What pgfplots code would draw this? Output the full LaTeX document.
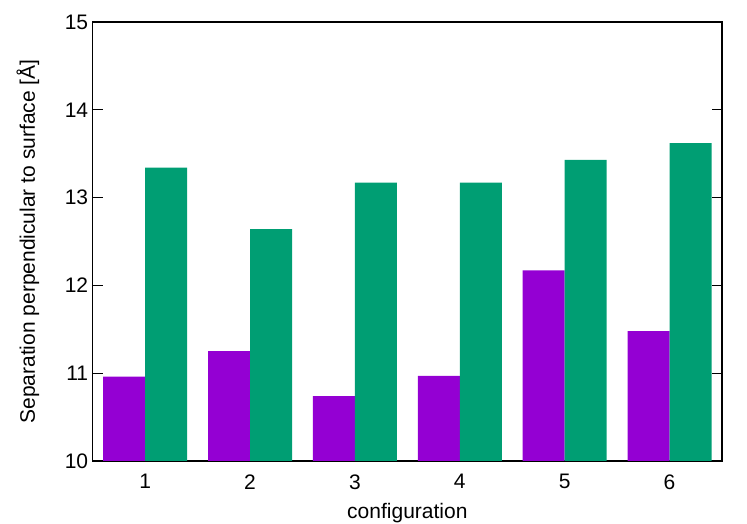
\documentclass[border=0pt]{standalone}
\usepackage{fontspec}
\setmainfont{Liberation Sans}
\usepackage{pgfplots}
\pgfplotsset{compat=1.18}
\definecolor{gpviolet}{HTML}{9400D3}
\definecolor{gpgreen}{HTML}{009E73}
\begin{document}
\begin{tikzpicture}
\useasboundingbox (-92.7pt,-63pt) rectangle (654.3pt,461pt);
\begin{axis}[
  at={(0pt,0pt)}, anchor=south west,
  scale only axis,
  width=629.3pt, height=439pt,
  xmin=0.5, xmax=6.5,
  ymin=10, ymax=15,
  ybar=0pt, bar width=42pt,
  xtick={1,2,3,4,5,6},
  ytick={10,11,12,13,14,15},
  x tick style={draw=none},
  y tick style={black, line width=0.8pt},
  major tick length=10pt,
  tick align=inside,
  axis line style={black, line width=1.1pt},
  /pgf/number format/assume math mode=true,
  tick label style={font=\fontsize{21}{24}\selectfont},
  label style={font=\fontsize{21}{24}\selectfont},
  xticklabel style={yshift=-10pt},
  yticklabel style={xshift=-1pt},
  xlabel={configuration},
  ylabel={Separation perpendicular to surface [Å]},
  xlabel style={at={(axis description cs:0.5,0)}, anchor=center, yshift=-52pt},
  ylabel style={at={(axis description cs:0,0.5)}, anchor=center, yshift=64.7pt, rotate=0},
]
\addplot[fill=gpviolet, draw=none] coordinates {(1,10.96) (2,11.25) (3,10.74) (4,10.97) (5,12.17) (6,11.48)};
\addplot[fill=gpgreen, draw=none] coordinates {(1,13.34) (2,12.64) (3,13.17) (4,13.17) (5,13.43) (6,13.62)};
\end{axis}
\end{tikzpicture}
\end{document}
